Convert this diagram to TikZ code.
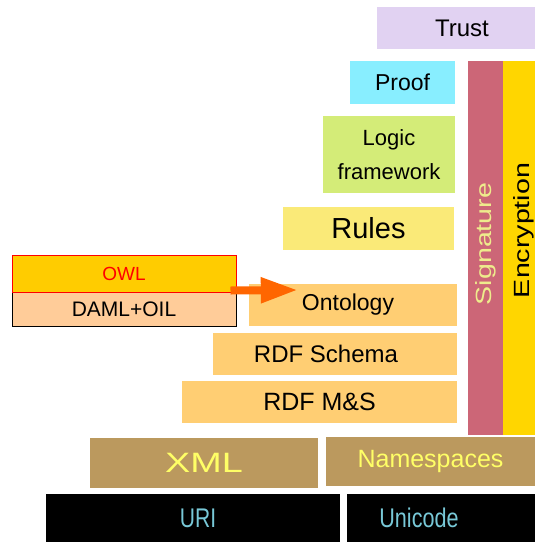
\documentclass[tikz,border=0pt]{standalone}
\usepackage{fontspec}
\setmainfont{Liberation Sans}
\usetikzlibrary{arrows.meta}
\definecolor{trustlila}{RGB}{225, 210, 242}
\definecolor{proofcyan}{RGB}{136, 238, 255}
\definecolor{logicgreen}{RGB}{212, 236, 120}
\definecolor{rulesyellow}{RGB}{250, 234, 120}
\definecolor{rdforange}{RGB}{255, 206, 115}
\definecolor{sigrose}{RGB}{204, 102, 119}
\definecolor{sigtextyellow}{RGB}{238, 236, 140}
\definecolor{encgold}{RGB}{255, 214, 0}
\definecolor{xmltan}{RGB}{187, 153, 94}
\definecolor{xmltextyellow}{RGB}{255, 255, 102}
\definecolor{uriteal}{RGB}{120, 200, 215}
\definecolor{owlgold}{RGB}{255, 204, 0}
\definecolor{damlpeach}{RGB}{255, 204, 153}
\definecolor{arroworange}{RGB}{255, 102, 0}
\newcommand{\fsz}[1]{\fontsize{#1}{#1}\selectfont}
\tikzset{layer/.style={rectangle, inner sep=0pt, align=center}}

\begin{document}
\begin{tikzpicture}[x=1pt, y=-1pt]
  \useasboundingbox (0,0) rectangle (535,542);

  % 顶层
  \node[layer, fill=trustlila, minimum width=158pt, minimum height=42pt, font=\fsz{24}]
    (trust) at (456,28) {\hspace*{12pt}Trust};
  \node[layer, fill=proofcyan, minimum width=105pt, minimum height=43pt, font=\fsz{23}]
    (proof) at (402.5,82.5) {Proof};
  \node[layer, fill=logicgreen, minimum width=132pt, minimum height=77pt, font=\fontsize{22}{34}\selectfont]
    (logic) at (389,154.5) {Logic\\framework};
  \node[layer, fill=rulesyellow, minimum width=171pt, minimum height=43pt, font=\fsz{29}]
    (rules) at (368.5,228.5) {Rules};

  % RDF 层
  \node[layer, fill=rdforange, minimum width=208pt, minimum height=42pt, font=\fsz{23}]
    (ontology) at (353,305) {Ontology\hspace*{10pt}};
  \node[layer, fill=rdforange, minimum width=244pt, minimum height=42pt, font=\fsz{24}]
    (rdfschema) at (335,354) {RDF Schema\hspace*{18pt}};
  \node[layer, fill=rdforange, minimum width=275pt, minimum height=42pt, font=\fsz{25}]
    (rdfms) at (319.5,402) {RDF M\&S};

  % 竖条
  \node[layer, fill=sigrose, minimum width=35pt, minimum height=374pt] (signature) at (485.5,248) {};
  \node[layer, fill=encgold, minimum width=32pt, minimum height=374pt] (encryption) at (519,248) {};
  \node[rotate=90, inner sep=0pt, text=sigtextyellow, font=\fsz{22}]
    (sigtext) at (486,244) {\scalebox{1.3}[1]{Signature}};
  \node[rotate=90, inner sep=0pt, font=\fsz{22}]
    (enctext) at (524,230.5) {\scalebox{1.3}[1]{Encryption}};

  % XML / Namespaces
  \node[layer, fill=xmltan, text=xmltextyellow, minimum width=228pt, minimum height=50pt, font=\fsz{28}]
    (xml) at (204,463) {\scalebox{1.35}[1]{XML}};
  \node[layer, fill=xmltan, text=xmltextyellow, minimum width=209pt, minimum height=49pt, font=\fsz{25}]
    (namespaces) at (430.5,461.5) {Namespaces};

  % URI / Unicode
  \node[layer, fill=black, text=uriteal, minimum width=294pt, minimum height=48pt, font=\fsz{27}]
    (uri) at (193,518) {\scalebox{0.78}[1]{URI}\hspace*{-10pt}};
  \node[layer, fill=black, text=uriteal, minimum width=188pt, minimum height=48pt, font=\fsz{27}]
    (unicode) at (441,518) {\scalebox{0.8}[1]{Unicode}\hspace*{44pt}};

  % DAML+OIL 与 OWL
  \node[layer, fill=damlpeach, draw=black, line width=1pt, minimum width=224pt, minimum height=34pt, font=\fsz{21}]
    (daml) at (124,309) {DAML+OIL};
  \node[layer, fill=owlgold, draw=red, line width=1pt, text=red, minimum width=224pt, minimum height=37pt, font=\fsz{19}]
    (owl) at (124,273.5) {OWL};

  % 箭头
  \draw[arroworange, line width=8pt, -{Triangle[length=37pt, width=24pt]}]
    ([xshift=-6pt, yshift=2pt]owl.south east) -- ([xshift=49pt, yshift=15pt]ontology.west);
\end{tikzpicture}
\end{document}
